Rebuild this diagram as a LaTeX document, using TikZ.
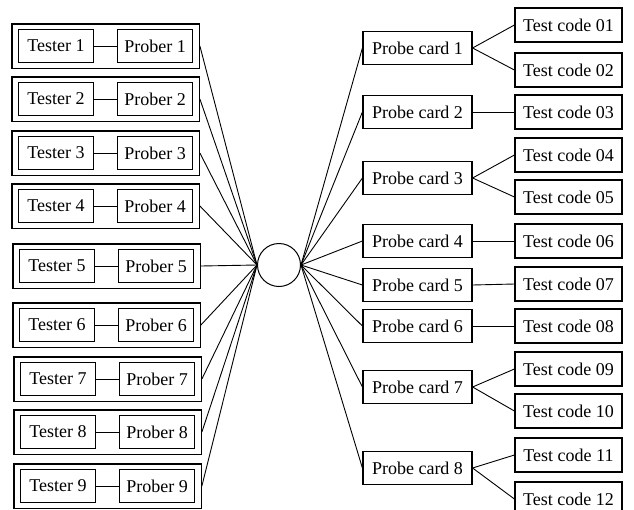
\documentclass[tikz,border=0pt]{standalone}
\usepackage{fontspec}
\setmainfont{Liberation Serif}
\usetikzlibrary{fit,positioning}
\tikzset{
  link/.style={line width=0.9pt, draw=black},
  unit box/.style={draw, line width=1.2pt, minimum width=75pt,
    minimum height=33pt, inner sep=0pt, font=\fontsize{18}{20}\selectfont},
  rig frame/.style={draw, line width=1.2pt, inner xsep=6pt, inner ysep=5pt},
  card box/.style={draw, line width=1.2pt, minimum width=109pt,
    minimum height=33pt, inner sep=0pt, font=\fontsize{18}{20}\selectfont},
  code box/.style={draw, line width=1.2pt, minimum width=107pt,
    minimum height=34pt, inner sep=0pt, font=\fontsize{18}{20}\selectfont},
  hub/.style={circle, draw, line width=1pt, minimum size=43pt, inner sep=0pt}
}
\begin{document}
\begin{tikzpicture}[x=1pt, y=-1pt]
  \clip (0,0) rectangle (634,509);
  % testers and probers
  \node[unit box] (tester1) at (56,46) {Tester 1};
  \node[unit box, right=23pt of tester1] (prober1) {Prober 1};
  \node[unit box] (tester2) at (56,99) {Tester 2};
  \node[unit box, right=23pt of tester2] (prober2) {Prober 2};
  \node[unit box] (tester3) at (56,153) {Tester 3};
  \node[unit box, right=23pt of tester3] (prober3) {Prober 3};
  \node[unit box] (tester4) at (56,206) {Tester 4};
  \node[unit box, right=23pt of tester4] (prober4) {Prober 4};
  \node[unit box] (tester5) at (57,266) {Tester 5};
  \node[unit box, right=23pt of tester5] (prober5) {Prober 5};
  \node[unit box] (tester6) at (57,325) {Tester 6};
  \node[unit box, right=23pt of tester6] (prober6) {Prober 6};
  \node[unit box] (tester7) at (58,379) {Tester 7};
  \node[unit box, right=23pt of tester7] (prober7) {Prober 7};
  \node[unit box] (tester8) at (58,432) {Tester 8};
  \node[unit box, right=23pt of tester8] (prober8) {Prober 8};
  \node[unit box] (tester9) at (58,486) {Tester 9};
  \node[unit box, right=23pt of tester9] (prober9) {Prober 9};
  \node[rig frame, fit=(tester1)(prober1)] (rig1) {};
  \node[rig frame, fit=(tester2)(prober2)] (rig2) {};
  \node[rig frame, fit=(tester3)(prober3)] (rig3) {};
  \node[rig frame, fit=(tester4)(prober4)] (rig4) {};
  \node[rig frame, fit=(tester5)(prober5)] (rig5) {};
  \node[rig frame, fit=(tester6)(prober6)] (rig6) {};
  \node[rig frame, fit=(tester7)(prober7)] (rig7) {};
  \node[rig frame, fit=(tester8)(prober8)] (rig8) {};
  \node[rig frame, fit=(tester9)(prober9)] (rig9) {};
  \node[hub] (hub) at (279,265) {};
  % probe cards and test codes
  \node[card box] (card1) at (417.5,48) {Probe card 1};
  \node[card box] (card2) at (417.5,112) {Probe card 2};
  \node[card box] (card3) at (417.5,178) {Probe card 3};
  \node[card box] (card4) at (417.5,241) {Probe card 4};
  \node[card box] (card5) at (417.5,285) {Probe card 5};
  \node[card box] (card6) at (417.5,326) {Probe card 6};
  \node[card box] (card7) at (417.5,387) {Probe card 7};
  \node[card box] (card8) at (417.5,468) {Probe card 8};
  \node[code box] (code01) at (568.5,25) {Test code 01};
  \node[code box] (code02) at (568.5,70) {Test code 02};
  \node[code box] (code03) at (568.5,112) {Test code 03};
  \node[code box] (code04) at (568.5,155) {Test code 04};
  \node[code box] (code05) at (568.5,197) {Test code 05};
  \node[code box] (code06) at (568.5,241) {Test code 06};
  \node[code box] (code07) at (568.5,284) {Test code 07};
  \node[code box] (code08) at (568.5,326) {Test code 08};
  \node[code box] (code09) at (568.5,369) {Test code 09};
  \node[code box] (code10) at (568.5,411) {Test code 10};
  \node[code box] (code11) at (568.5,455) {Test code 11};
  \node[code box] (code12) at (568.5,499) {Test code 12};
  % connectors
  \draw[link] (tester1) -- (prober1); \draw[link] (tester2) -- (prober2);
  \draw[link] (tester3) -- (prober3); \draw[link] (tester4) -- (prober4);
  \draw[link] (tester5) -- (prober5); \draw[link] (tester6) -- (prober6);
  \draw[link] (tester7) -- (prober7); \draw[link] (tester8) -- (prober8);
  \draw[link] (tester9) -- (prober9);
  \draw[link] (rig1.east) -- (hub.west); \draw[link] (rig2.east) -- (hub.west);
  \draw[link] (rig3.east) -- (hub.west); \draw[link] (rig4.east) -- (hub.west);
  \draw[link] (rig5.east) -- (hub.west); \draw[link] (rig6.east) -- (hub.west);
  \draw[link] (rig7.east) -- (hub.west); \draw[link] (rig8.east) -- (hub.west);
  \draw[link] (rig9.east) -- (hub.west);
  \draw[link] (hub.east) -- (card1.west); \draw[link] (hub.east) -- (card2.west);
  \draw[link] (hub.east) -- (card3.west); \draw[link] (hub.east) -- (card4.west);
  \draw[link] (hub.east) -- (card5.west); \draw[link] (hub.east) -- (card6.west);
  \draw[link] (hub.east) -- (card7.west); \draw[link] (hub.east) -- (card8.west);
  \draw[link] (card1.east) -- (code01.west); \draw[link] (card1.east) -- (code02.west);
  \draw[link] (card2.east) -- (code03.west);
  \draw[link] (card3.east) -- (code04.west); \draw[link] (card3.east) -- (code05.west);
  \draw[link] (card4.east) -- (code06.west); \draw[link] (card5.east) -- (code07.west);
  \draw[link] (card6.east) -- (code08.west);
  \draw[link] (card7.east) -- (code09.west); \draw[link] (card7.east) -- (code10.west);
  \draw[link] (card8.east) -- (code11.west); \draw[link] (card8.east) -- (code12.west);
\end{tikzpicture}
\end{document}
